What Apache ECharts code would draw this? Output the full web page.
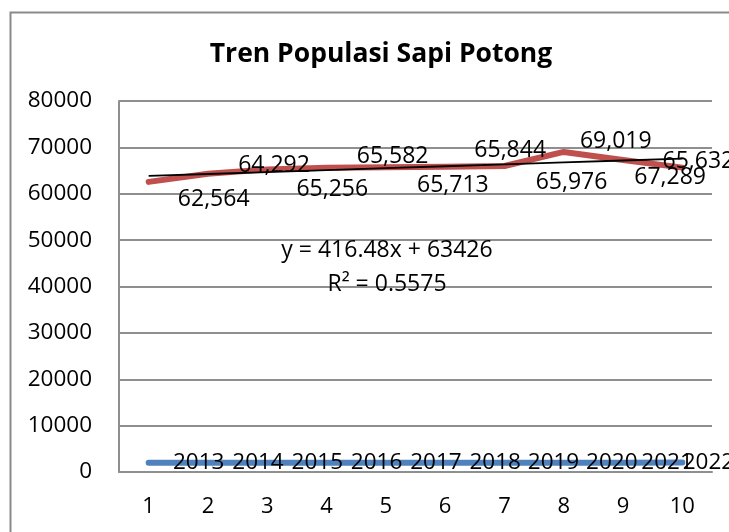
<!DOCTYPE html>
<html>
<head>
<meta charset="utf-8">
<script src="https://cdn.jsdelivr.net/npm/echarts@6/dist/echarts.min.js"></script>
<style>
  html, body { margin: 0; padding: 0; background: #fff; }
  #chart { width: 729px; height: 532px; }
</style>
</head>
<body>
<div id="chart"></div>
<script>
// data
const categories = ['1', '2', '3', '4', '5', '6', '7', '8', '9', '10'];
const populasi = [62564, 64292, 65256, 65582, 65713, 65844, 65976, 69019, 67289, 65632];
const tahun = [2013, 2014, 2015, 2016, 2017, 2018, 2019, 2020, 2021, 2022];
const yTicks = [0, 10000, 20000, 30000, 40000, 50000, 60000, 70000, 80000];
// linear trend as printed on the chart
const trendSlope = 416.48;
const trendIntercept = 63426;
const trendText = ['y = 416.48x + 63426', 'R² = 0.5575'];

// label placement (style only)
const popOffsets = [[65, 18], [66, -8], [65, 20], [66, -11], [67, 18], [65, -16], [67, 16], [52, -10], [47, 18], [16, -6]];
const yearOffsets = [[50, 0], [50, 0], [50, 0], [50, 0], [50, 0], [50, 0], [49, 0], [48, 0], [44, 0], [26, 0]];

const font = '"Open Sans", Carlito, sans-serif';
const trend = categories.map((c, i) => +(trendSlope * (i + 1) + trendIntercept).toFixed(2));

let chartDom = document.getElementById('chart');
let myChart = echarts.init(chartDom);
var option;
option = {
  backgroundColor: '#fff',
  animation: false,
  textStyle: { fontFamily: font },
  title: {
    text: 'Tren Populasi Sapi Potong',
    left: 376,
    textAlign: 'center',
    top: 36,
    textStyle: { fontFamily: font, fontSize: 26.5, fontWeight: 'bold', color: '#000' },
  },
  grid: { left: 119, right: 17, top: 101, bottom: 60, containLabel: false },
  xAxis: {
    type: 'category',
    data: categories,
    boundaryGap: true,
    axisLine: { show: true, lineStyle: { color: '#8f8f8f', width: 2 } },
    axisTick: { show: false },
    axisLabel: { color: '#000', fontSize: 22, margin: 24, fontFamily: font },
  },
  yAxis: {
    type: 'value',
    min: yTicks[0],
    max: yTicks[yTicks.length - 1],
    interval: yTicks[1] - yTicks[0],
    axisLine: { show: true, lineStyle: { color: '#8f8f8f', width: 2 } },
    axisTick: { show: false },
    axisLabel: { color: '#000', fontSize: 22.5, margin: 27, fontFamily: font, formatter: (v) => String(v) },
    splitLine: { show: true, lineStyle: { color: '#8f8f8f', width: 2 } },
  },
  series: [
    {
      name: 'Tahun',
      type: 'line',
      data: tahun.map((v, i) => ({
        value: v,
        label: { offset: yearOffsets[i] },
      })),
      symbol: 'circle',
      symbolSize: 0.1,
      lineStyle: { color: '#4F81BD', width: 6, cap: 'round' },
      itemStyle: { color: '#4F81BD' },
      label: {
        show: true,
        position: 'right',
        distance: 0,
        align: 'center',
        verticalAlign: 'middle',
        color: '#000',
        fontSize: 22.5,
        fontFamily: font,
      },
      z: 2,
    },
    {
      name: 'Populasi',
      type: 'line',
      data: populasi.map((v, i) => ({
        value: v,
        label: { offset: popOffsets[i] },
      })),
      symbol: 'circle',
      symbolSize: 0.1,
      lineStyle: { color: '#C0504D', width: 6, cap: 'round', join: 'round' },
      itemStyle: { color: '#C0504D' },
      label: {
        show: true,
        position: 'right',
        distance: 0,
        align: 'center',
        verticalAlign: 'middle',
        color: '#000',
        fontSize: 23,
        fontFamily: font,
        formatter: (p) => p.value.toLocaleString('en-US'),
      },
      z: 3,
    },
    {
      name: 'Linear (Populasi)',
      type: 'line',
      data: trend,
      symbol: 'none',
      lineStyle: { color: '#000', width: 1.8 },
      z: 4,
    },
  ],
  graphic: [
    {
      type: 'rect',
      left: 8,
      top: 10,
      shape: { width: 760, height: 560 },
      style: { fill: 'none', stroke: '#8a8a8a', lineWidth: 2 },
      silent: true,
    },
    {
      type: 'text',
      x: 387,
      y: 250,
      style: { text: trendText[0], font: '23px ' + font, fill: '#000', align: 'center', verticalAlign: 'middle' },
      z: 10,
    },
    {
      type: 'text',
      x: 387,
      y: 284,
      style: { text: trendText[1], font: '23px ' + font, fill: '#000', align: 'center', verticalAlign: 'middle' },
      z: 10,
    },
  ],
};

option && myChart.setOption(option);
</script>
</body>
</html>
